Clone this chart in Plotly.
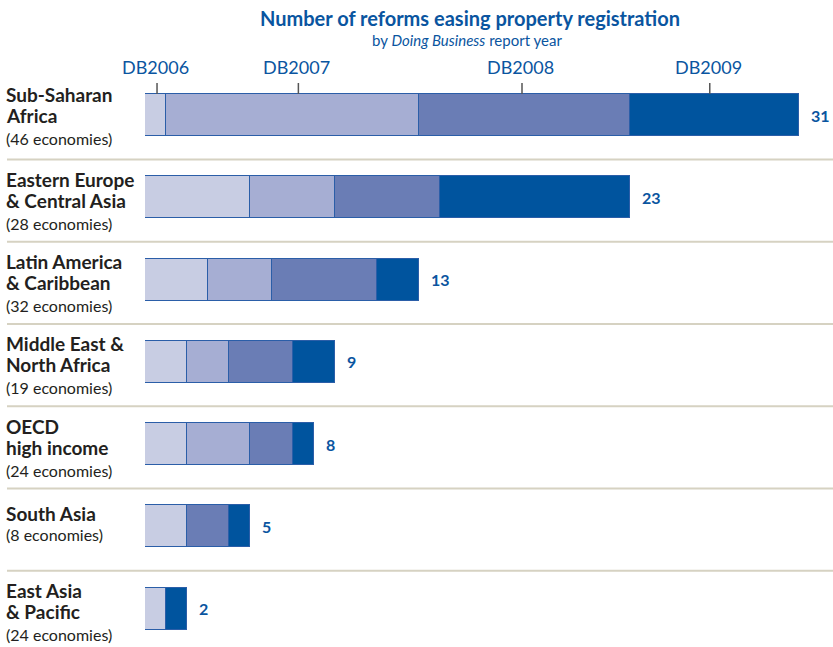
import plotly.graph_objects as go

# ---- data ----
regions = ["Sub-Saharan Africa", "Eastern Europe & Central Asia", "Latin America & Caribbean",
           "Middle East & North Africa", "OECD high income", "South Asia", "East Asia & Pacific"]
region_lines = [["Sub-Saharan", "Africa"], ["Eastern Europe", "& Central Asia"],
                ["Latin America", "& Caribbean"], ["Middle East &", "North Africa"],
                ["OECD", "high income"], ["South Asia"], ["East Asia", "& Pacific"]]
economies = [46, 28, 32, 19, 24, 8, 24]
years = ["DB2006", "DB2007", "DB2008", "DB2009"]
db2006 = [1, 5, 3, 2, 2, 2, 1]
db2007 = [12, 4, 3, 2, 3, 0, 0]
db2008 = [10, 5, 5, 3, 2, 2, 0]
db2009 = [8, 9, 2, 2, 1, 1, 1]
totals = [31, 23, 13, 9, 8, 5, 2]

# ---- style ----
W, H = 833, 647
FONT = "Lato"
BLUE = "#0a55a0"
DARK = "#231f20"
colors = ["#c8cde3", "#a6aed3", "#6a7db5", "#00549e"]
edge = "#2b5ea8"
x0_px, px_per_unit = 145, 21.097
row0_px, row_px = 115, 82.25
bar_px = 42

fig = go.Figure()
for name, vals, col in zip(years, [db2006, db2007, db2008, db2009], colors):
    fig.add_trace(go.Bar(
        y=regions, x=vals, name=name, orientation="h",
        marker=dict(color=col, line=dict(color=edge, width=1)),
        width=bar_px / row_px, hoverinfo="x+name",
    ))

ann = []
# title
ann.append(dict(text="<b>Number of reforms easing property registration</b>", xref="paper", yref="paper",
                x=470 / W, y=1 - 18 / H, xanchor="center", yanchor="middle", showarrow=False,
                font=dict(family=FONT, size=20, color=BLUE)))
ann.append(dict(text="by <i>Doing Business</i> report year", xref="paper", yref="paper",
                x=467 / W, y=1 - 40 / H, xanchor="center", yanchor="middle", showarrow=False,
                font=dict(family=FONT, size=15, color=BLUE)))

# header year labels with ticks
header_x = [0.5, 7.2, 17.8, 26.7]
for lab, hx in zip(years, header_x):
    ann.append(dict(text=lab, xref="x", yref="paper", x=hx, y=1 - 67 / H, xanchor="center",
                    yanchor="middle", showarrow=False, font=dict(family=FONT, size=18, color=BLUE)))

shapes = []
for hx in header_x:
    shapes.append(dict(type="line", xref="x", yref="paper", x0=hx + 0.07, x1=hx + 0.07,
                       y0=1 - 94 / H, y1=1 - 83 / H, line=dict(color="#555555", width=1.5)))

# separators
for i in range(len(regions) - 1):
    yy = i + 0.5 + 3.5 / row_px
    shapes.append(dict(type="line", xref="paper", yref="y", x0=7 / W, x1=1, y0=yy, y1=yy,
                       line=dict(color="#d6d2c2", width=2)))

# category labels
shift0 = [-3, 0, 0, 0, 0, 0, 0]
for i, (lines, ne) in enumerate(zip(region_lines, economies)):
    offs = [-18, 3] if len(lines) == 2 else [-13]
    for ln, off in zip(lines, offs):
        ann.append(dict(text="<b>" + ln + "</b>", xref="paper", yref="y", x=4 / W, y=regions[i],
                        yshift=-(off + shift0[i]), xanchor="left", yanchor="middle", showarrow=False,
                        font=dict(family=FONT, size=19, color=DARK)))
    eoff = 26 if len(lines) == 2 else 8
    ann.append(dict(text=f"({ne} economies)", xref="paper", yref="y", x=4 / W, y=regions[i],
                    yshift=-(eoff + shift0[i]), xanchor="left", yanchor="middle", showarrow=False,
                    font=dict(family=FONT, size=16, color=DARK)))

# totals
for r, t in zip(regions, totals):
    ann.append(dict(text=f"<b>{t}</b>", xref="x", yref="y", x=t, y=r, xanchor="left",
                    yanchor="middle", xshift=10, showarrow=False,
                    font=dict(family=FONT, size=16, color=BLUE)))

plot_w = W - x0_px
fig.update_layout(
    width=W, height=H, margin=dict(l=0, r=0, t=0, b=0),
    paper_bgcolor="white", plot_bgcolor="white",
    barmode="stack", showlegend=False, bargap=0,
    xaxis=dict(domain=[x0_px / W, 1], range=[0, plot_w / px_per_unit], visible=False, fixedrange=True),
    yaxis=dict(type="category", categoryorder="array", categoryarray=regions,
               range=[6 + (H - (row0_px + 6 * row_px)) / row_px, -row0_px / row_px],
               visible=False, fixedrange=True),
    annotations=ann, shapes=shapes,
)
fig.write_html("out.html", config={"displayModeBar": False},
               post_script="document.body.style.margin='0px';document.body.style.overflow='hidden';")
